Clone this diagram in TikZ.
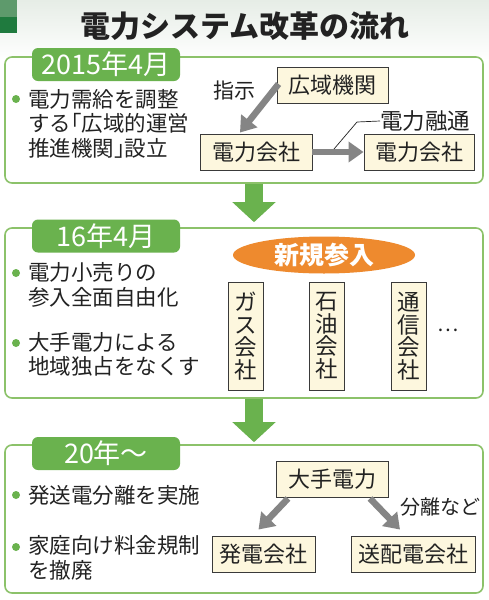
\documentclass[tikz,border=0pt]{standalone}
\usepackage{fontspec}
\setmainfont{Noto Sans CJK JP}
\usetikzlibrary{arrows.meta,shapes.geometric,calc}
\definecolor{pgreen}{HTML}{8CC26A}
\definecolor{tgreen}{HTML}{6AB24E}
\definecolor{agreen}{HTML}{6AB24E}
\definecolor{dgreen}{HTML}{1F7A3E}
\definecolor{lgreen}{HTML}{5E9A6C}
\definecolor{boxfill}{HTML}{FDF7DE}
\definecolor{boxline}{HTML}{3A3A3A}
\definecolor{garrow}{HTML}{858585}
\definecolor{orng}{HTML}{EE8A2E}
\definecolor{txt}{HTML}{222222}
\definecolor{bgtop}{HTML}{E6EDE6}
\newcommand{\lbrk}{\hbox to 0.5em{\hss「}}
\newcommand{\rbrk}{\hbox to 0.5em{」\hss}}
\tikzset{
  panel/.style={draw=pgreen, line width=1.6pt, rounded corners=7pt, fill=white, minimum width=478pt, inner sep=0pt},
  tab/.style={fill=tgreen, rounded corners=6pt, minimum width=148pt, minimum height=33pt, inner sep=0pt, text=white, font=\fontsize{27}{27}\selectfont},
  cbox/.style={draw=boxline, line width=0.9pt, fill=boxfill, inner sep=0pt, text=txt, font=\fontsize{22}{22}\selectfont},
  vbox/.style={cbox, minimum width=35pt, minimum height=108pt, align=center, font=\fontsize{22.5}{22.5}\selectfont},
  btext/.style={anchor=west, inner sep=0pt, align=left, text=txt, font=\fontsize{21.5}{24.5}\selectfont},
  bdot/.style={circle, fill=tgreen, inner sep=0pt, minimum size=8pt},
  lbl/.style={inner sep=0pt, text=txt},
  garr/.style={draw=garrow, line width=6.5pt, -{Triangle[width=20pt,length=15pt]}},
  grarr/.style={draw=agreen, line width=18pt, -{Triangle[width=42pt,length=20pt]}},
}
\begin{document}
\begin{tikzpicture}[x=1pt,y=-1pt]
\useasboundingbox (0,0) rectangle (489,600);
% background
\shade[top color=bgtop, bottom color=white] (0,0) rectangle (489,60);
\fill[white] (0,60) rectangle (489,600);
\fill[lgreen] (0,0) rectangle (17,17);
\fill[dgreen] (0,17) rectangle (17,33);
% title
\node[lbl, font=\fontsize{30}{30}\selectfont\bfseries] (title) at (245,26) {電力システム改革の流れ};

% panels
\node[panel, minimum height=126pt] (p1) at (244,120) {};
\node[panel, minimum height=170pt] (p2) at (244,313) {};
\node[panel, minimum height=148pt] (p3) at (244,519) {};

% green arrows
\draw[grarr, shorten >=5pt] ($(p1.south)+(10,0)$) -- ($(p2.north)+(10,0)$);
\draw[grarr, shorten >=2pt] ($(p2.south)+(10,0)$) -- ($(p3.north)+(10,0)$);

% tabs
\node[tab] (t1) at (106,64.5) {2015年4月};
\node[tab] (t2) at (106,236) {16年4月};
\node[tab] (t3) at (106,453.5) {20年～};

% ---- panel 1
\node[bdot] (d1) at (16,99) {};
\node[btext] (b1) at (28,123.5) {電力需給を調整\\する\lbrk 広域的運営\\推進機関\rbrk 設立};
\node[cbox, minimum width=111pt, minimum height=36pt] (kouiki) at (332.5,85) {広域機関};
\node[cbox, minimum width=112pt, minimum height=36pt] (den1) at (256,152) {電力会社};
\node[cbox, minimum width=110pt, minimum height=36pt] (den2) at (419,152) {電力会社};
\node[lbl, font=\fontsize{21}{21}\selectfont] (shiji) at (234,91) {指示};
\draw[garr] ($(kouiki.west)+(2,-1)$) -- ($(den1.north)+(-16,-1)$);
\draw[garr] (den1.east) -- (den2.west);
\node[lbl, anchor=west, font=\fontsize{22.5}{22.5}\selectfont] (yuzu) at (380,121) {電力融通};
\coordinate (yz) at (334,149);
\coordinate (yzk) at (357,122);
\draw[txt, line width=0.7pt] (yz) -- (yzk) -- (yuzu.west);

% ---- panel 2
\node[ellipse, fill=orng, minimum width=182pt, minimum height=37pt, inner sep=0pt, text=white, font=\fontsize{25}{25}\selectfont\bfseries] (shinki) at (324,255) {新規参入};
\node[bdot] (d2) at (16,273) {};
\node[btext] (b2) at (28,285) {電力小売りの\\参入全面自由化};
\node[bdot] (d3) at (16,343) {};
\node[btext] (b3) at (28,354.5) {大手電力による\\地域独占をなくす};
\node[vbox] (gas) at (245.5,336) {ガ\\ス\\会\\社};
\node[vbox] (sekiyu) at (327,336) {石\\油\\会\\社};
\node[vbox] (tsushin) at (409,336) {通\\信\\会\\社};
\node[lbl, font=\fontsize{20}{20}\selectfont] (dots) at (448,330) {…};

% ---- panel 3
\node[bdot] (d4) at (16,495) {};
\node[btext] (b4) at (28,495) {発送電分離を実施};
\node[bdot] (d5) at (16,547) {};
\node[btext] (b5) at (28,558) {家庭向け料金規制\\を撤廃};
\node[cbox, minimum width=112pt, minimum height=36pt] (ote) at (332,479) {大手電力};
\node[cbox, minimum width=103pt, minimum height=36pt] (hatsu) at (263.5,554) {発電会社};
\node[cbox, minimum width=124pt, minimum height=36pt] (souhai) at (413,554) {送配電会社};
\draw[garr] ($(ote.south)+(-44,1)$) -- ($(hatsu.north)+(-5,-6)$);
\draw[garr] ($(ote.south)+(38,1)$) -- ($(souhai.north)+(-13,-6)$);
\node[lbl, anchor=west, font=\fontsize{20}{20}\selectfont] (bunri) at (400,507) {分離など};
\end{tikzpicture}
\end{document}
